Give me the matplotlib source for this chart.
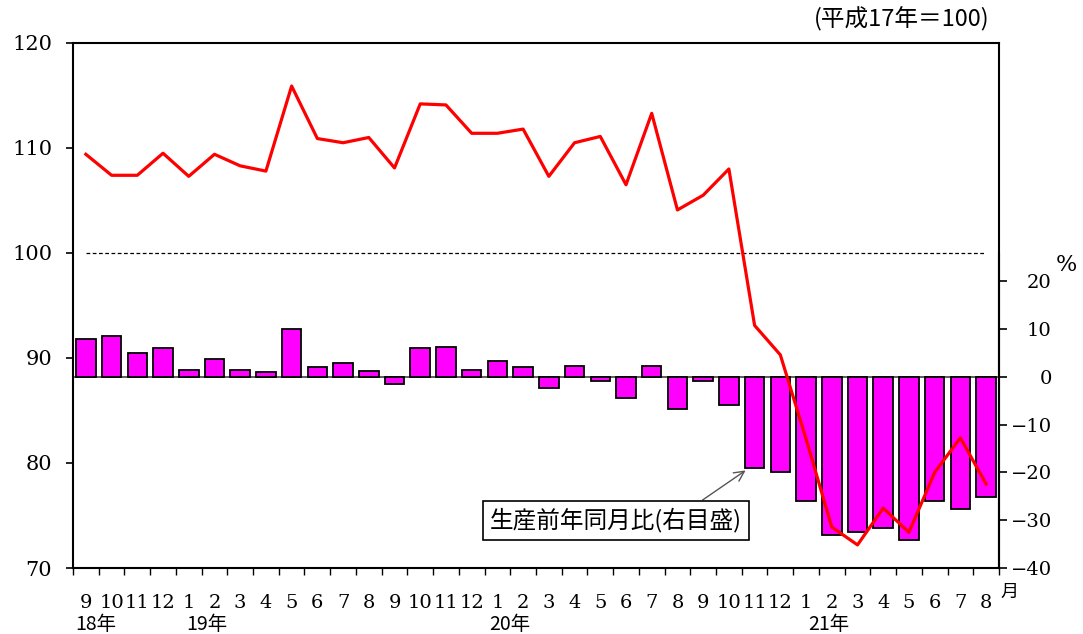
import matplotlib
matplotlib.use('Agg')
import matplotlib.pyplot as plt
import matplotlib.transforms as mtransforms
import numpy as np

# 月ラベル(平成18年9月〜21年8月)
months = ['9', '10', '11', '12', '1', '2', '3', '4', '5', '6', '7', '8',
          '9', '10', '11', '12', '1', '2', '3', '4', '5', '6', '7', '8',
          '9', '10', '11', '12', '1', '2', '3', '4', '5', '6', '7', '8']
years = ['18年', '19年', '20年', '21年']
year_pos = [0.4, 4.7, 16.5, 28.9]

# 生産指数(左目盛、平成17年=100)
index_values = [109.4, 107.4, 107.4, 109.5, 107.3, 109.4, 108.3, 107.8, 115.9,
                110.9, 110.5, 111.0, 108.1, 114.2, 114.1, 111.4, 111.4, 111.8,
                107.3, 110.5, 111.1, 106.5, 113.3, 104.1, 105.5, 108.0, 93.1,
                90.3, 82.3, 73.9, 72.2, 75.7, 73.4, 79.1, 82.4, 78.0]

# 生産前年同月比(右目盛、%)
yoy_values = [7.9, 8.5, 5.0, 5.9, 1.4, 3.8, 1.5, 0.9, 9.9,
              2.0, 2.9, 1.2, -1.5, 5.9, 6.2, 1.5, 3.2, 2.0,
              -2.4, 2.3, -0.9, -4.5, 2.3, -6.8, -0.9, -5.9, -19.0,
              -20.0, -26.0, -33.1, -32.4, -31.6, -34.2, -26.0, -27.6, -25.2]

serif = ['DejaVu Serif']
jp = ['Noto Sans CJK JP', 'DejaVu Sans']

x = np.arange(len(months))

fig = plt.figure(figsize=(10.83, 6.34), dpi=100)
ax = fig.add_axes([0.0674, 0.1041, 0.8550, 0.8281])
ax2 = ax.twinx()

# 棒グラフ(右目盛)
ax2.bar(x, yoy_values, width=0.76, color='#FF00FF', edgecolor='black', linewidth=1.3, zorder=2)
ax2.axhline(0, color='#444444', linewidth=1.2, zorder=1)
ax2.set_ylim(-40, 69.77)
ax2.set_yticks(np.arange(-40, 21, 10))
ax2.set_yticklabels(['−40', '−30', '−20', '−10', '0', '10', '20'], fontfamily=serif,
                    fontsize=14, ha='right')
ax2.spines['right'].set_bounds(-40, 25.7)
ax2.spines['right'].set_linewidth(1.5)
for s in ['top', 'left', 'bottom']:
    ax2.spines[s].set_visible(False)
ax2.tick_params(axis='y', direction='out', length=6, width=1.2, pad=32)
ax2.text(1.073, 0.577, '%', transform=ax.transAxes, fontfamily=serif, fontsize=16,
         ha='center', va='center')

# 折れ線(左目盛)
ax.set_zorder(ax2.get_zorder() + 1)
ax.patch.set_visible(False)
ax.plot(x, index_values, color='#FF0000', linewidth=2.3, zorder=3)
ax.hlines(100, x[0], x[-1], colors='black', linestyles=(0, (3, 2)), linewidth=0.9)
ax.set_ylim(70, 120)
ax.set_yticks(np.arange(70, 121, 10))
ax.set_yticklabels([str(v) for v in range(70, 121, 10)], fontfamily=serif, fontsize=15)
ax.set_xlim(-0.5, len(months) - 0.5)
for s in ax.spines.values():
    s.set_linewidth(1.5)
ax.tick_params(axis='y', direction='out', length=5, width=1.2, pad=10)

# 月ラベルと目盛
ax.set_xticks(x)
ax.set_xticklabels(months, fontfamily=serif, fontsize=14)
ax.tick_params(axis='x', which='major', length=0, pad=19)
ax.set_xticks(np.arange(-0.5, len(months), 1), minor=True)
ax.tick_params(axis='x', which='minor', direction='out', length=5, width=1.0)

trans = mtransforms.blended_transform_factory(ax.transData, ax.transAxes)
for yr, p in zip(years, year_pos):
    ax.text(p, -0.107, yr, transform=trans, fontfamily=jp, fontsize=14,
            ha='center', va='center')
ax.text(len(months) - 0.45, -0.045, '月', transform=trans, fontfamily=jp,
        fontsize=13, ha='left', va='center')

fig.text(0.914, 0.969, '(平成17年＝100)', fontfamily=jp, fontsize=17,
         ha='right', va='center')

# 注記
ax2.annotate('生産前年同月比(右目盛)', xy=(25.65, -19.6), xytext=(20.6, -30.0),
             fontfamily=jp, fontsize=17, ha='center', va='center',
             bbox=dict(boxstyle='square,pad=0.3', facecolor='white', edgecolor='black', linewidth=1.2),
             arrowprops=dict(arrowstyle='->', color='#555555', linewidth=1.0,
                             relpos=(0.8, 1.0), mutation_scale=18, shrinkA=0, shrinkB=0),
             zorder=5)

fig.savefig('out.png', dpi=100)
